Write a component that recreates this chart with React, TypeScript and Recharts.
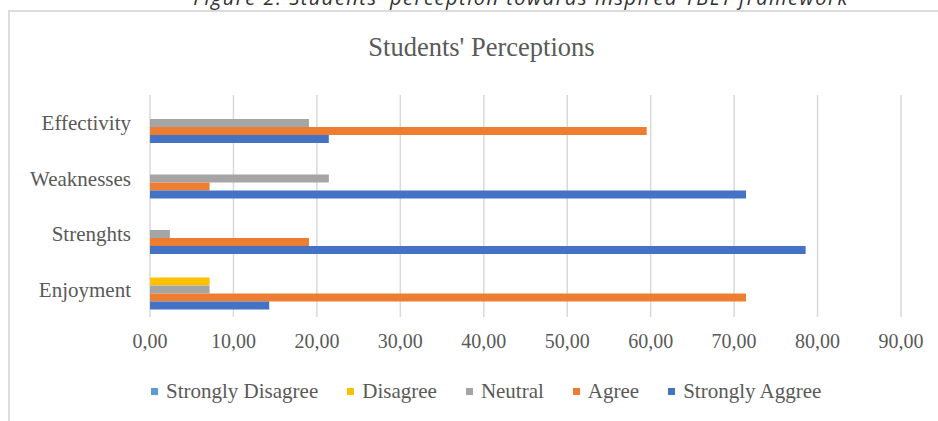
import React from "react";
import { Bar, BarChart, CartesianGrid, Legend, XAxis, YAxis } from "recharts";

const categories = ["Effectivity", "Weaknesses", "Strenghts", "Enjoyment"];
const seriesNames = ["Strongly Disagree", "Disagree", "Neutral", "Agree", "Strongly Aggree"];
const stronglyDisagree = [0, 0, 0, 0];
const disagree = [0, 0, 0, 7.14];
const neutral = [19.05, 21.43, 2.38, 7.14];
const agree = [59.52, 7.14, 19.05, 71.43];
const stronglyAgree = [21.43, 71.43, 78.57, 14.29];
const xTicks = [0, 10, 20, 30, 40, 50, 60, 70, 80, 90];

const data = categories.map((name, i) => ({
  name,
  stronglyDisagree: stronglyDisagree[i],
  disagree: disagree[i],
  neutral: neutral[i],
  agree: agree[i],
  stronglyAgree: stronglyAgree[i],
}));

const serif = "'Liberation Serif', 'Times New Roman', serif";
const textGray = "#595959";

function LegendContent({ payload }: any) {
  const items = [...(payload || [])].sort(
    (a: any, b: any) => seriesNames.indexOf(a.value) - seriesNames.indexOf(b.value)
  );
  return (
    <div
      style={{
        display: "flex",
        alignItems: "center",
        height: 40,
        paddingLeft: 151,
        fontFamily: serif,
        fontSize: 21,
        color: textGray,
      }}
    >
      {items.map((entry: any) => (
        <div key={entry.value} style={{ display: "flex", alignItems: "center", marginRight: 29 }}>
          <span style={{ width: 7, height: 7, background: entry.color, marginRight: 8 }} />
          <span>{entry.value}</span>
        </div>
      ))}
    </div>
  );
}

export default function App() {
  return (
    <div style={{ position: "absolute", left: 0, top: 0, width: 938, height: 421, overflow: "hidden", background: "#fff" }}>
      {/* caption from the page, cut off at the top */}
      <div
        style={{
          position: "absolute",
          top: -12,
          left: 52,
          width: 938,
          textAlign: "center",
          fontFamily: "'Open Sans', sans-serif",
          fontStyle: "italic",
          fontSize: 20,
          lineHeight: "20px",
          letterSpacing: 1.5,
          color: "#303030",
        }}
      >
        Figure 2. Students' perception towards inspired TBLT framework
      </div>
      <div
        style={{
          position: "absolute",
          left: 8,
          top: 10,
          width: 940,
          height: 440,
          border: "2px solid #dcdcdc",
          boxSizing: "border-box",
        }}
      />
      <div
        style={{
          position: "absolute",
          top: 34,
          left: 0,
          width: 963,
          textAlign: "center",
          fontFamily: serif,
          fontSize: 26.5,
          lineHeight: "26px",
          color: textGray,
        }}
      >
        Students' Perceptions
      </div>
      <div style={{ position: "absolute", left: 0, top: 0 }}>
        <BarChart
          width={938}
          height={421}
          data={data}
          layout="vertical"
          margin={{ top: 95, right: 37, bottom: 10, left: 10 }}
          barSize={8}
          barGap={0}
        >
          <CartesianGrid horizontal={false} stroke="#d9d9d9" strokeWidth={1.5} />
          <XAxis
            type="number"
            domain={[0, 90]}
            ticks={xTicks}
            interval={0}
            tickFormatter={(v) => Number(v).toFixed(2).replace(".", ",")}
            axisLine={false}
            tickLine={false}
            tickSize={0}
            tickMargin={17}
            height={54}
            tick={{ fontSize: 20, fill: textGray, fontFamily: serif }}
          />
          <YAxis
            type="category"
            dataKey="name"
            width={140}
            axisLine={false}
            tickLine={false}
            tickSize={0}
            tickMargin={19}
            tick={{ fontSize: 21, fill: textGray, fontFamily: serif }}
          />
          <Legend verticalAlign="bottom" height={40} content={<LegendContent />} wrapperStyle={{ left: 0, width: 938 }} />
          <Bar dataKey="stronglyDisagree" name={seriesNames[0]} fill="#5B9BD5" isAnimationActive={false} />
          <Bar dataKey="disagree" name={seriesNames[1]} fill="#FFC000" isAnimationActive={false} />
          <Bar dataKey="neutral" name={seriesNames[2]} fill="#A5A5A5" isAnimationActive={false} />
          <Bar dataKey="agree" name={seriesNames[3]} fill="#ED7D31" isAnimationActive={false} />
          <Bar dataKey="stronglyAgree" name={seriesNames[4]} fill="#4472C4" isAnimationActive={false} />
        </BarChart>
      </div>
    </div>
  );
}
